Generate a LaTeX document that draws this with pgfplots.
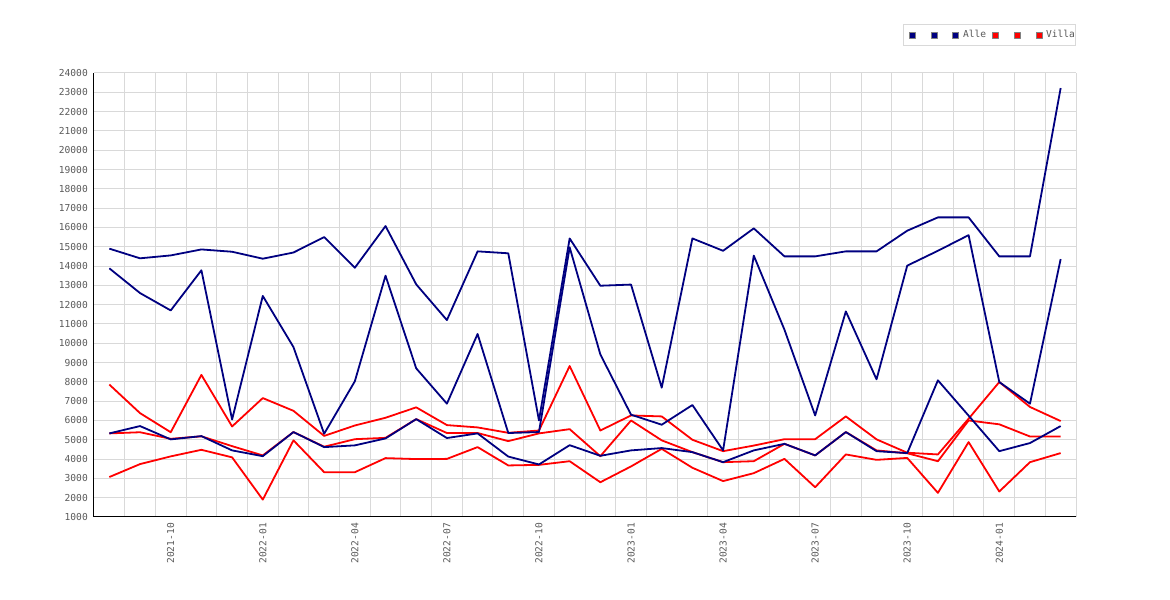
\documentclass[border=0pt]{standalone}
\usepackage{fontspec}
\setmainfont{DejaVu Sans Mono}
\usepackage{pgfplots}
\usepackage{pgfplotstable}
\pgfplotsset{compat=1.18}
\definecolor{navyc}{HTML}{000080}
\definecolor{redc}{HTML}{FF0000}
\definecolor{gridc}{HTML}{D9D9D9}
\definecolor{labc}{HTML}{5A5A5A}

\pgfplotstableread{
i a1 a2 a3 v1 v2 v3
0 14900 13880 5330 7860 5330 3070
1 14400 12600 5710 6380 5390 3740
2 14550 11700 5020 5390 5050 4140
3 14860 13780 5190 8360 5180 4480
4 14740 6050 4450 5690 4670 4090
5 14380 12450 4150 7160 4190 1900
6 14700 9800 5400 6500 5400 4970
7 15500 5310 4620 5200 4640 3320
8 13910 8030 4710 5740 5030 3320
9 16070 13500 5070 6140 5100 4050
10 13050 8700 6070 6680 6070 4000
11 11200 6870 5090 5760 5350 4010
12 14760 10480 5330 5640 5350 4620
13 14660 5350 4130 5360 4930 3670
14 6000 5400 3720 5480 5330 3700
15 15430 14970 4720 8820 5550 3890
16 12980 9420 4170 5480 4150 2800
17 13040 6300 4450 6260 6000 3620
18 7700 5780 4570 6210 4970 4530
19 15430 6800 4360 5000 4360 3550
20 14790 4450 3840 4410 3840 2860
21 15950 14540 4450 4700 3890 3270
22 14500 10700 4790 5030 4790 4010
23 14500 6260 4190 5030 4190 2540
24 14760 11650 5400 6210 5400 4240
25 14760 8130 4410 5020 4450 3960
26 15830 14020 4310 4330 4300 4060
27 16520 14790 8080 4240 3890 2250
28 16520 15600 6250 6090 6000 4880
29 14500 7990 4410 7990 5800 2320
30 14500 6870 4830 6700 5170 3840
31 23220 14360 5710 5970 5170 4310
}\data

\begin{document}
\begin{tikzpicture}
\begin{axis}[
  name=ax,
  scale only axis, width=982pt, height=444pt,
  xmin=-0.5, xmax=31.5, ymin=1000, ymax=24000,
  axis x line*=bottom, axis y line*=left,
  axis line style={black, line width=1pt},
  xtick={2,5,...,29},
  xticklabels={2021-10,2022-01,2022-04,2022-07,2022-10,2023-01,2023-04,2023-07,2023-10,2024-01},
  minor xtick={0.5,1.5,...,31.5},
  ytick={1000,2000,...,24000},
  scaled y ticks=false,
  xminorgrids=true, ymajorgrids=true, xmajorgrids=false,
  grid style={gridc, line width=1pt},
  minor grid style={gridc, line width=1pt},
  major tick length=0pt, minor tick length=0pt,
  /pgf/number format/assume math mode=true,
  /pgf/number format/1000 sep={},
  tick label style={font=\fontsize{9.6}{11}\selectfont, text=labc, inner sep=0pt},
  xticklabel style={rotate=90, anchor=east},
  xticklabel shift=6pt, yticklabel shift=6pt,
  legend columns=6,
  legend style={at={(1,1)}, anchor=south east, yshift=27pt, draw=gridc, line width=1pt,
    font=\fontsize{9.6}{11}\selectfont, text=labc, inner xsep=0.5pt, inner ysep=6pt,
    nodes={inner sep=0pt},
    /tikz/every odd column/.append style={column sep=4pt},
    /tikz/every even column/.append style={column sep=5.5pt}},
  legend image code/.code={\filldraw[#1, draw=gray, line width=0.6pt] (0pt,-3pt) rectangle (6pt,3pt);},
  every axis plot/.append style={line width=1.8pt, line join=round},
]
\addlegendimage{navyc, legend image code/.code={\path (-4pt,0pt); \filldraw[fill=navyc, draw=gray, line width=0.6pt] (0pt,-3pt) rectangle (6pt,3pt);}}
\addlegendimage{navyc}
\addlegendimage{navyc}
\addlegendimage{redc}
\addlegendimage{redc}
\addlegendimage{redc}
\legend{\hbox to 5.8pt{},\hbox to 5.8pt{},Alle,\hbox to 5.8pt{},\hbox to 5.8pt{},Villa}
\addplot[redc, forget plot] table[x=i, y=v1] {\data};
\addplot[redc, forget plot] table[x=i, y=v2] {\data};
\addplot[redc, forget plot] table[x=i, y=v3] {\data};
\addplot[navyc, forget plot] table[x=i, y=a1] {\data};
\addplot[navyc, forget plot] table[x=i, y=a2] {\data};
\addplot[navyc, forget plot] table[x=i, y=a3] {\data};
\end{axis}
\pgfresetboundingbox
\path ([xshift=-94pt,yshift=-83pt]ax.south west) rectangle ([xshift=94pt,yshift=73pt]ax.north east);
\end{tikzpicture}
\end{document}
